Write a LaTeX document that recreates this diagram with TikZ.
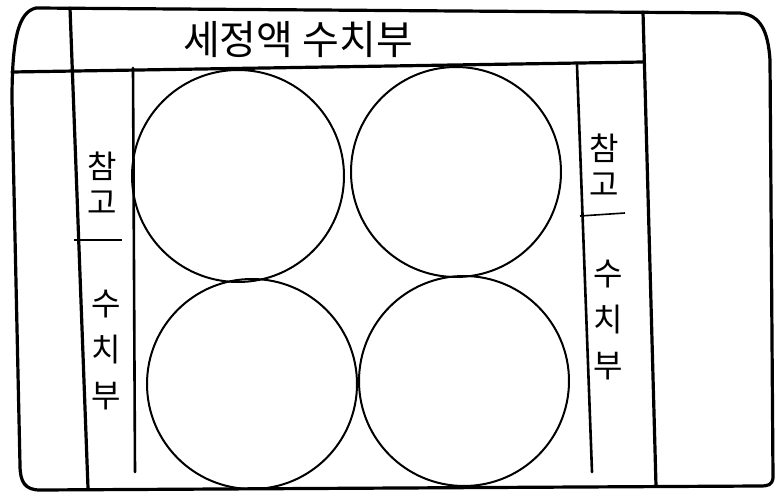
\documentclass[tikz,border=0pt]{standalone}
\usepackage{fontspec}
\newfontfamily\kr{Noto Sans CJK KR}
\begin{document}
\begin{tikzpicture}[x=1pt,y=-1pt,
  frame/.style={line width=3.2pt,line cap=round,line join=round},
  inner/.style={line width=2.6pt,line cap=round},
  circ/.style={line width=2pt},
  lbl/.style={font=\kr\fontsize{40}{42}\selectfont,inner sep=0pt},
  vlbl/.style={font=\kr\fontsize{32}{34}\selectfont,inner sep=0pt,align=center}]
\useasboundingbox (0,0) rectangle (777,495);
% outer frame
\draw[frame] (36,8) -- (740,13) .. controls (760,15) and (768,30) .. (770,60)
  -- (773,478) .. controls (772,485) and (768,486) .. (760,486)
  -- (40,490) .. controls (25,490) and (20,482) .. (20,465)
  -- (12,100) .. controls (12,40) and (18,12) .. (36,8);
% top band
\draw[frame] (12,72) -- (643,62);
% long verticals
\draw[frame] (70,8) -- (88,488);
\draw[frame] (643,12) -- (656,486);
% column inner verticals
\draw[inner] (133,68) -- (135,472);
\draw[inner] (577,65) -- (592,472);
% column dividers
\draw[line width=1.6pt] (74,240) -- (122,240);
\draw[line width=1.6pt] (580,216) -- (625,213);
% circles
\draw[circ] (238,176) circle (106);
\draw[circ] (456,172) circle (105);
\draw[circ] (252,384) circle (105);
\draw[circ] (464,381) circle (105);
% labels
\node[lbl] (top) at (298,40) {세정액 수치부};
\node[vlbl] (l1) at (102,183) {참\\[2pt]고};
\node[vlbl] (l2) at (106,350) {수\\[12pt]치\\[12pt]부};
\node[vlbl] (r1) at (604,165) {참\\[2pt]고};
\node[vlbl] (r2) at (608,320) {수\\[12pt]치\\[12pt]부};
\end{tikzpicture}
\end{document}
